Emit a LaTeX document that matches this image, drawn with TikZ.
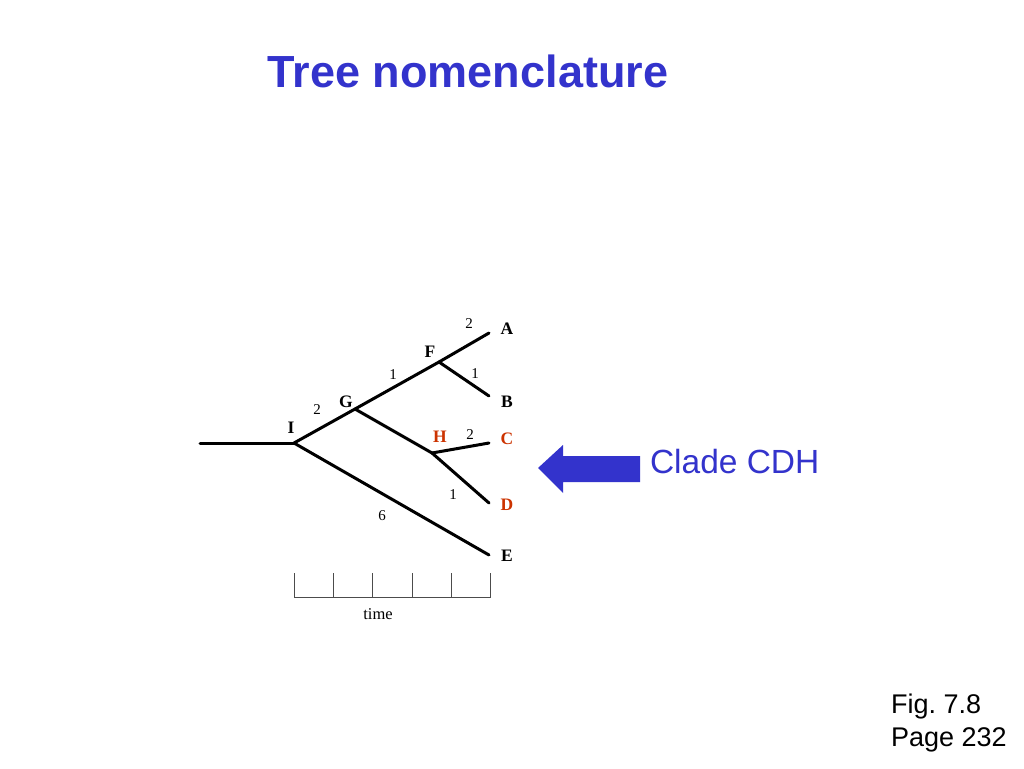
\documentclass[tikz,border=0pt]{standalone}
\usepackage{fontspec}
\setmainfont{Liberation Serif}
\setsansfont{Liberation Sans}
\definecolor{slideblue}{HTML}{3333CC}
\definecolor{cladered}{HTML}{CC3300}
\begin{document}
\begin{tikzpicture}[x=1pt, y=-1pt]
\tikzset{ inner sep=0pt, outer sep=0pt,
  branch/.style={line width=3pt, line cap=round},
  tiplabel/.style={font=\fontsize{17.5}{17.5}\selectfont\bfseries},
  cladelabel/.style={tiplabel, text=cladered},
  lenlabel/.style={font=\fontsize{15}{15}\selectfont},
  ruler/.style={line width=1pt, black!70},
}
\useasboundingbox [fill=white] (0,0) rectangle (1024,768);

%\draw [lightgray, dashed](0,0) grid[step=50] (1024,768);

\node [font=\sffamily\bfseries\fontsize{45}{45}\selectfont, text=slideblue] (title) at (468,71) {Tree nomenclature};

% tree
\coordinate (root) at (200,443);
\coordinate (I) at (294,443);
\coordinate (G) at (355,409);
\coordinate (F) at (439,362);
\coordinate (H) at (432,453);
\coordinate (A) at (489,333);
\coordinate (B) at (489,396);
\coordinate (C) at (489,443);
\coordinate (D) at (489,503);
\coordinate (E) at (489,555);

\draw [branch] (root) -- (I);
\draw [branch] (I) -- (G);
\draw [branch] (G) -- (F);
\draw [branch] (F) -- (A);
\draw [branch] (F) -- (B);
\draw [branch] (G) -- (H);
\draw [branch] (H) -- (C);
\draw [branch] (H) -- (D);
\draw [branch] (I) -- (E);

\node [tiplabel] (lA) at (507,329) {A};
\node [tiplabel] (lB) at (507,402) {B};
\node [cladelabel] (lC) at (507,439) {C};
\node [cladelabel] (lD) at (507,505) {D};
\node [tiplabel] (lE) at (507,556) {E};
\node [tiplabel] (lF) at (430,352) {F};
\node [tiplabel] (lG) at (346,402) {G};
\node [cladelabel] (lH) at (440,437) {H};
\node [tiplabel] (lI) at (291,428) {I};

\node [lenlabel] (nFA) at (469,324) {2};
\node [lenlabel] (nFB) at (475,374) {1};
\node [lenlabel] (nGF) at (393,375) {1};
\node [lenlabel] (nIG) at (317,410) {2};
\node [lenlabel] (nHC) at (470,435) {2};
\node [lenlabel] (nHD) at (453,495) {1};
\node [lenlabel] (nIE) at (382,516) {6};

% time axis
\draw [ruler] (294,573) -- (294,597) -- (490,597) -- (490,573);
\foreach \tx in {333,372,412,451}
  \draw [ruler] (\tx,573) -- (\tx,597);
\node [lenlabel, font=\fontsize{16.5}{16.5}\selectfont] (time) at (378,614) {time};

% clade arrow
\fill [slideblue] (538,468) -- (563,445) -- (563,456) -- (640,456)
  -- (640,482) -- (563,482) -- (563,493) -- cycle;
\node [font=\sffamily\fontsize{33.5}{33.5}\selectfont, text=slideblue, anchor=base west] (clade) at (650,473) {Clade CDH};

\node [font=\sffamily\fontsize{27}{33}\selectfont, anchor=base west, align=left] (fig) at (891,746) {Fig.\ 7.8\\Page 232};

\end{tikzpicture}
\end{document}
